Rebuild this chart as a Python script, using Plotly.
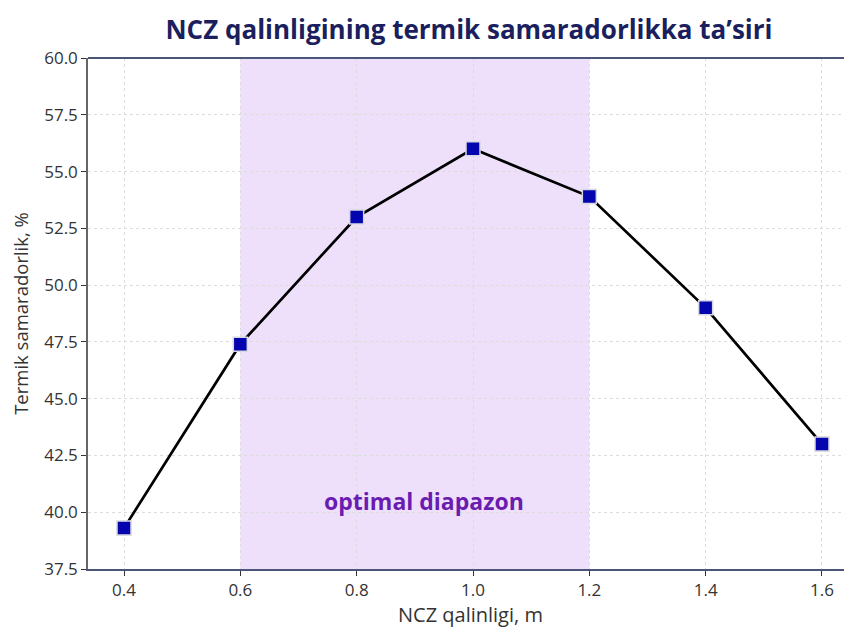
import plotly.graph_objects as go

thickness = [0.4, 0.6, 0.8, 1.0, 1.2, 1.4, 1.6]
efficiency = [39.3, 47.4, 53.0, 56.0, 53.9, 49.0, 43.0]
x_ticks = [0.4, 0.6, 0.8, 1.0, 1.2, 1.4, 1.6]
x_tick_labels = ["0.4", "0.6", "0.8", "1.0", "1.2", "1.4", "1.6"]
y_ticks = [37.5, 40.0, 42.5, 45.0, 47.5, 50.0, 52.5, 55.0, 57.5, 60.0]
y_tick_labels = ["37.5", "40.0", "42.5", "45.0", "47.5", "50.0", "52.5", "55.0", "57.5", "60.0"]
optimal_range = [0.6, 1.2]

FONT = "Open Sans, Noto Sans, sans-serif"

fig = go.Figure()
fig.add_vrect(x0=optimal_range[0], x1=optimal_range[1], fillcolor="#eee0fb",
              opacity=1, line_width=0, layer="below")
fig.add_trace(go.Scatter(
    x=thickness, y=efficiency, mode="lines+markers",
    line=dict(color="black", width=2.7),
    marker=dict(symbol="square", size=14, color="#0505b0",
                line=dict(color="#d8d8e0", width=1.5)),
    showlegend=False,
))
fig.add_annotation(x=0.915, y=40.5, text="<b>optimal diapazon</b>",
                   showarrow=False, font=dict(family=FONT, size=23, color="#6a1cb0"))
# x-axis title placed as annotation
fig.add_annotation(x=0.5, y=0, xref="paper", yref="paper", yanchor="middle",
                   yshift=-45, text="NCZ qalinligi, m", showarrow=False,
                   font=dict(family=FONT, size=20, color="#333333"))
# top frame line
fig.add_shape(type="line", xref="paper", yref="paper", x0=0, x1=1, y0=1, y1=1,
              line=dict(color="#4a5578", width=2))

fig.update_layout(
    width=844, height=619,
    margin=dict(l=80, r=0, t=50, b=58, autoexpand=False),
    paper_bgcolor="white", plot_bgcolor="white",
    title=dict(text="<b>NCZ qalinligining termik samaradorlikka ta’siri</b>",
               x=0.5462, xanchor="center", y=0.9645, yanchor="middle",
               font=dict(family=FONT, size=26, color="#1b1f5e")),
    font=dict(family=FONT, color="#333333"),
)
fig.update_xaxes(
    range=[0.3381, 1.6516], tickvals=x_ticks, ticktext=x_tick_labels,
    tickfont=dict(size=17, color="#333333"), automargin=False,
    showgrid=True, gridcolor="#dcdcdc", griddash="dot", gridwidth=1,
    showline=True, linecolor="#4a5578", linewidth=2,
    ticks="outside", ticklen=5, tickcolor="#333333", zeroline=False,
)
fig.update_yaxes(
    range=[37.5, 60.0], tickvals=y_ticks, ticktext=y_tick_labels,
    tickfont=dict(size=17, color="#333333"), automargin=False,
    title=dict(text="Termik samaradorlik, %", font=dict(size=18.5, color="#333333"), standoff=15),
    showgrid=True, gridcolor="#dcdcdc", griddash="dot", gridwidth=1,
    showline=True, linecolor="#666666", linewidth=1.5,
    ticks="outside", ticklen=5, tickcolor="#333333", zeroline=False,
)

fig.write_html("out.html")
